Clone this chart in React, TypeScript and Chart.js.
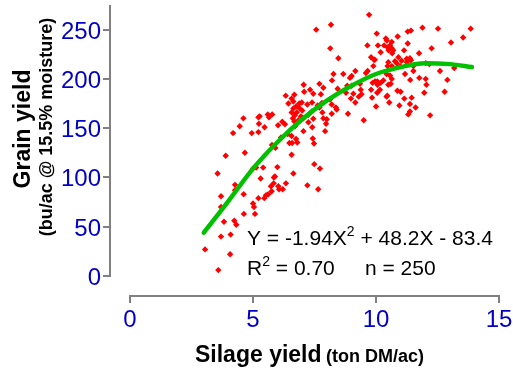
import React, { useEffect, useRef } from "react";
import { Chart, registerables } from "chart.js";

Chart.register(...registerables);

// Scatter observations: silage yield (ton DM/ac) vs grain yield (bu/ac)
const SILAGE_X = [
  3.05, 3.59, 4.07, 3.7, 4.09, 3.82, 4.24, 4.32, 3.7, 4.63, 5.08, 5.0, 5.04, 3.7, 4.27, 4.62, 5.22, 5.46, 5.53, 5.62,
  5.76, 5.73, 5.84, 6.03, 6.06, 6.21, 6.34, 4.27, 3.56, 5.31, 5.85, 5.89, 5.0, 5.13, 5.41, 5.99, 4.67, 3.89, 5.77, 5.91,
  6.14, 4.19, 4.46, 4.61, 4.95, 5.22, 5.47, 5.24, 5.22, 5.27, 5.6, 5.65, 5.78, 6.02, 6.19, 6.3, 6.41, 6.57, 6.48, 6.59,
  6.57, 6.64, 6.44, 6.64, 6.33, 6.57, 6.68, 6.57,
  6.75, 6.8, 6.64, 7.21, 7.65, 7.49, 7.72, 7.43, 7.48, 7.05, 7.41, 7.93, 7.97, 8.0, 7.86, 8.2, 8.4, 8.37, 8.86, 9.5, 6.71,
  6.62, 6.7, 6.78, 6.85, 6.9, 6.95, 7.0, 6.75, 6.88, 7.05, 6.68, 6.98,
  7.25, 7.45, 7.25, 7.39, 7.21, 7.4, 7.32, 7.08, 7.06, 7.45, 7.7, 7.86, 7.76, 7.8, 7.7, 7.82, 7.63, 8.13, 8.2, 8.44,
  8.78, 8.83, 9.01, 8.27, 8.67, 8.21, 8.94, 9.01, 9.16, 9.35, 9.38, 9.08, 8.98, 9.16, 9.41, 9.3, 9.59, 9.66, 9.89, 9.92,
  9.8, 9.84, 10.0, 10.05, 10.16, 10.19, 10.3, 10.43, 10.5, 10.46, 10.54, 9.96, 10.05, 9.86, 10.06,
  7.57, 8.17, 9.72, 8.14, 8.47, 9.65, 10.03, 10.4, 10.44, 10.08, 10.33, 10.47, 10.51, 10.57, 10.19, 9.8, 9.95, 10.5,
  11.29, 11.42, 11.89, 12.52, 13.85, 13.54, 13.05, 12.26, 11.75, 10.88, 11.29, 11.14, 10.64, 10.64, 10.7, 10.66,
  10.91, 11.04, 11.25, 11.38, 11.42, 11.25, 10.77, 10.47, 10.64, 10.84, 10.98, 10.87,
  11.52, 11.52, 12.02, 12.17, 13.18, 12.6, 11.18, 10.57, 10.64, 10.6, 11.39, 11.76, 12.02, 12.05, 12.9, 12.79, 10.87, 11.0,
  11.15, 11.45, 11.96, 10.43, 10.95, 11.38, 11.61, 11.38, 11.31, 12.2,
];
const GRAIN_Y = [
  27, 6, 22, 40, 42, 55, 56, 52, 70, 63, 63, 73.5, 70, 81, 87, 83, 79, 79, 82, 83,
  86, 91, 94, 91, 88, 88, 94, 92.5, 104, 99, 100, 101, 109, 110, 110, 110.5, 125, 122, 133, 130,
  140.5, 145, 152, 160, 145, 146, 151, 154.5, 161, 162, 164, 161, 164, 153, 156.5, 154, 144, 142, 135, 135,
  166, 170, 175, 177, 183, 180, 184, 123,
  139, 135.5, 104, 92, 88, 113.5, 109, 139.5, 134.5, 147, 151, 147, 154.5, 159, 160, 164.6, 169, 171, 164.6, 158, 152,
  160, 163, 166, 158, 170, 162, 168, 172, 175, 160, 157, 176,
  156, 159.5, 163.6, 167, 174, 176, 189, 187, 194, 185, 195, 191, 184.5, 175.5, 171, 166, 173, 179, 174, 190,
  186, 193, 193, 205, 205, 198.5, 201, 203, 208, 195, 189, 185, 180, 176, 184.5, 182, 206, 208, 213, 219.5,
  189, 181, 172, 186, 189, 196, 198.5, 205, 194, 183, 176, 197.5, 197.5, 196, 194,
  250, 255, 265, 231, 221, 234, 246, 241, 239, 234, 234, 232, 229, 234, 227, 222, 219.5, 217,
  248, 249, 252, 251, 251, 242, 237, 231, 226, 243, 236, 229, 237.5, 231, 229, 226,
  222, 218.5, 220.5, 221, 219, 217, 218, 213, 213, 216, 213, 212,
  213, 208, 216, 215, 211, 208, 205, 203.5, 200, 195, 199, 201, 200, 194, 199, 187, 188, 187,
  180, 181, 186, 182, 173, 174.5, 171, 167, 164, 163,
];

// Fitted quadratic curve
const FIT_X = [3, 4, 5, 6, 7, 8, 9, 10, 11, 12, 13, 13.9];
const FIT_Y = [44, 76, 109, 136, 159, 178, 193, 205, 212, 216, 215, 212];

const X_TICKS = [0, 5, 10, 15];
const Y_TICKS = [0, 50, 100, 150, 200, 250];

const X_TITLE = "Silage yield";
const X_UNIT = "(ton DM/ac)";
const Y_TITLE = "Grain yield";
const Y_UNIT = "(bu/ac @ 15.5% moisture)";
const EQ_PARTS = ["Y = -1.94X", "2", " + 48.2X - 83.4"];
const R2_PARTS = ["R", "2", " = 0.70"];
const N_TEXT = "n = 250";

const FONT = "'Liberation Sans', Arial, Helvetica, sans-serif";
const AXIS_GRAY = "#808080";
const TICK_BLUE = "#0000c8";

const decorPlugin = {
  id: "decor",
  afterDraw(chart: any) {
    const ctx = chart.ctx as CanvasRenderingContext2D;
    const xs = chart.scales.x;
    const ys = chart.scales.y;
    const x0 = xs.getPixelForValue(xs.min);
    const x1 = xs.getPixelForValue(xs.max);
    const y0 = ys.getPixelForValue(ys.min);
    const y1 = ys.getPixelForValue(ys.max);
    const ax = Math.round(x0 - 20);
    const ay = Math.round(y0 + 20);
    ctx.save();
    // detached y axis
    ctx.strokeStyle = AXIS_GRAY;
    ctx.lineWidth = 2;
    ctx.lineCap = "butt";
    ctx.beginPath();
    ctx.moveTo(ax, y0 + 1);
    ctx.lineTo(ax, y1);
    ctx.stroke();
    Y_TICKS.forEach((v) => {
      const p = Math.round(ys.getPixelForValue(v));
      ctx.beginPath();
      ctx.moveTo(ax - 7, p);
      ctx.lineTo(ax, p);
      ctx.stroke();
    });
    // detached x axis
    ctx.beginPath();
    ctx.moveTo(x0 - 1, ay);
    ctx.lineTo(x1 + 1, ay);
    ctx.stroke();
    X_TICKS.forEach((v) => {
      const p = Math.round(xs.getPixelForValue(v));
      ctx.beginPath();
      ctx.moveTo(p, ay);
      ctx.lineTo(p, ay + 7);
      ctx.stroke();
    });

    // tick labels
    ctx.fillStyle = TICK_BLUE;
    ctx.font = `24px ${FONT}`;
    ctx.textBaseline = "alphabetic";
    ctx.textAlign = "right";
    Y_TICKS.forEach((v) => {
      const p = ys.getPixelForValue(v);
      ctx.fillText(String(v), ax - 9, p + 9);
    });
    ctx.textAlign = "center";
    X_TICKS.forEach((v) => {
      const p = xs.getPixelForValue(v);
      ctx.fillText(String(v), p, ay + 31);
    });

    ctx.fillStyle = "#000";
    ctx.textAlign = "left";

    // x title
    ctx.font = `bold 23px ${FONT}`;
    const tx = 195;
    ctx.fillText(X_TITLE, tx, 362);
    const w1 = ctx.measureText(X_TITLE + " ").width;
    ctx.font = `bold 18px ${FONT}`;
    ctx.fillText(X_UNIT, tx + w1 - 2, 362);

    // y title (rotated)
    ctx.save();
    ctx.translate(30, 129);
    ctx.rotate(-Math.PI / 2);
    ctx.textAlign = "center";
    ctx.font = `bold 23px ${FONT}`;
    ctx.fillText(Y_TITLE, 0, 0);
    ctx.restore();
    ctx.save();
    ctx.translate(52, 127);
    ctx.rotate(-Math.PI / 2);
    ctx.textAlign = "center";
    ctx.font = `bold 18px ${FONT}`;
    ctx.fillText(Y_UNIT, 0, 0);
    ctx.restore();

    // equation annotations
    const drawParts = (parts: string[], x: number, y: number) => {
      ctx.font = `21px ${FONT}`;
      ctx.fillText(parts[0], x, y);
      x += ctx.measureText(parts[0]).width;
      ctx.font = `14px ${FONT}`;
      ctx.fillText(parts[1], x, y - 9);
      x += ctx.measureText(parts[1]).width;
      ctx.font = `21px ${FONT}`;
      ctx.fillText(parts[2], x, y);
    };
    drawParts(EQ_PARTS, 247, 245);
    drawParts(R2_PARTS, 247, 275);
    ctx.font = `21px ${FONT}`;
    ctx.fillText(N_TEXT, 365, 275);
    ctx.restore();
  },
};

export default function App() {
  const ref = useRef<HTMLCanvasElement | null>(null);
  useEffect(() => {
    if (!ref.current) return;
    const points = SILAGE_X.map((x, i) => ({ x, y: GRAIN_Y[i] }));
    const fit = FIT_X.map((x, i) => ({ x, y: FIT_Y[i] }));
    const chart = new Chart(ref.current, {
      type: "scatter",
      data: {
        datasets: [
          {
            label: "fit",
            data: fit,
            showLine: true,
            borderColor: "#00c000",
            backgroundColor: "#00c000",
            borderWidth: 4.5,
            borderCapStyle: "round",
            pointRadius: 0,
            cubicInterpolationMode: "monotone",
            order: 0,
          } as any,
          {
            label: "obs",
            data: points,
            pointStyle: "rectRot",
            pointRadius: 3.2,
            borderWidth: 0,
            backgroundColor: "#ff0000",
            borderColor: "#ff0000",
            order: 1,
          } as any,
        ],
      },
      options: {
        responsive: false,
        animation: false,
        layout: { padding: { left: 0, right: 14, top: 5, bottom: 0 } },
        plugins: { legend: { display: false }, tooltip: { enabled: false } },
        scales: {
          x: {
            type: "linear",
            min: 0,
            max: 15,
            grid: { display: false, drawTicks: false, tickLength: 0 },
            border: { display: false },
            ticks: { display: false, padding: 0 },
            afterFit: (s: any) => {
              s.height = 97;
            },
          },
          y: {
            type: "linear",
            min: 0,
            max: 275,
            grid: { display: false, drawTicks: false, tickLength: 0 },
            border: { display: false },
            ticks: { display: false, padding: 0 },
            afterFit: (s: any) => {
              s.width = 130;
            },
          },
        },
      },
      plugins: [decorPlugin],
    });
    return () => chart.destroy();
  }, []);
  return (
    <div style={{ position: "fixed", left: 0, top: 0, width: 513, height: 373, background: "#fff" }}>
      <canvas ref={ref} width={513} height={373} />
    </div>
  );
}
